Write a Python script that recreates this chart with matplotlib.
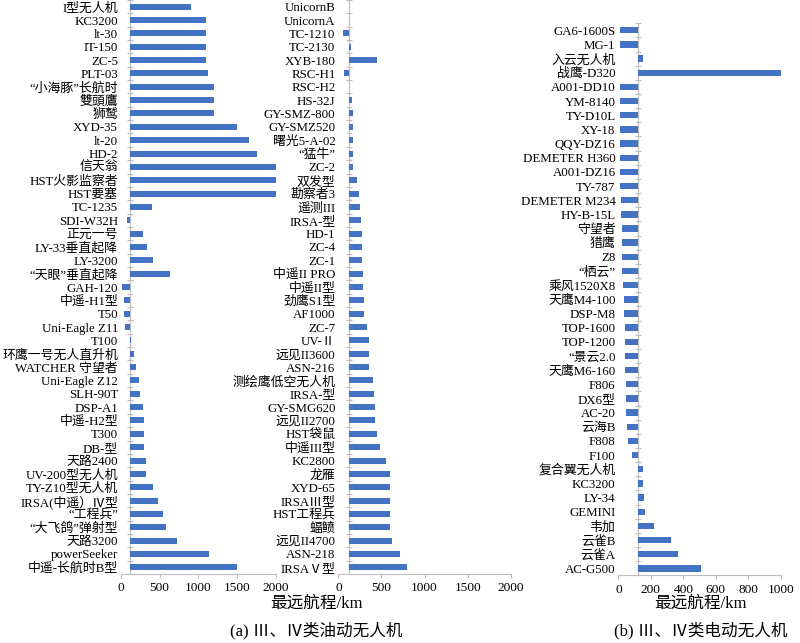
import numpy as np
import matplotlib.pyplot as plt

plt.rcParams['font.family'] = ['Liberation Serif', 'Noto Sans CJK SC']

# value where the vertical axis crosses (bars start from here)
BASE = 120

oil1_names = ["I型无人机", "KC3200", "lt-30", "IT-150", "ZC-5", "PLT-03", "“小海豚”长航时", "雙頭鷹", "狮鹫",
              "XYD-35", "lt-20", "HD-2", "信天翁", "HST火影监察者", "HST要塞", "TC-1235", "SDI-W32H", "正元一号",
              "LY-33垂直起降", "LY-3200", "“天眼”垂直起降", "GAH-120", "中遥-H1型", "T50", "Uni-Eagle Z11", "T100",
              "环鹰一号无人直升机", "WATCHER 守望者", "Uni-Eagle Z12", "SLH-90T", "DSP-A1", "中遥-H2型", "T300",
              "DB-型", "天路2400", "UV-200型无人机", "TY-Z10型无人机", "IRSA(中遥）Ⅳ型", "“工程兵”",
              "“大飞鸽”弹射型", "天路3200", "powerSeeker", "中遥-长航时B型"]
oil1_range = [900, 1100, 1100, 1100, 1100, 1120, 1200, 1200, 1200,
              1500, 1650, 1750, 2000, 2000, 2000, 400, 80, 280,
              340, 420, 640, 15, 40, 40, 60, 135,
              175, 200, 240, 250, 280, 300, 300,
              300, 320, 330, 420, 480, 550,
              580, 720, 1140, 1500]

oil2_names = ["UnicornB", "UnicornA", "TC-1210", "TC-2130", "XYB-180", "RSC-H1", "RSC-H2", "HS-32J", "GY-SMZ-800",
              "GY-SMZ520", "曙光5-A-02", "“猛牛”", "ZC-2", "双发型", "勘察者3", "遥测III", "IRSA-型", "HD-1", "ZC-4",
              "ZC-1", "中遥II PRO", "中遥II型", "劲鹰S1型", "AF1000", "ZC-7", "UV-Ⅱ", "远见II3600", "ASN-216",
              "测绘鹰低空无人机", "IRSA-型", "GY-SMG620", "远见II2700", "HST袋鼠", "中遥III型", "KC2800", "龙雁",
              "XYD-65", "IRSAⅢ型", "HST工程兵", "蝠鲼", "远见II4700", "ASN-218", "IRSAⅤ型"]
oil2_range = [120, 120, 50, 145, 450, 65, 120, 160, 175,
              175, 175, 175, 175, 220, 240, 250, 260, 280, 280,
              280, 285, 285, 300, 300, 330, 360, 360, 360,
              400, 410, 420, 420, 450, 480, 550, 600,
              600, 600, 600, 600, 625, 720, 800]

elec_names = ["GA6-1600S", "MG-1", "入云无人机", "战鹰-D320", "A001-DD10", "YM-8140", "TY-D10L", "XY-18",
              "QQY-DZ16", "DEMETER H360", "A001-DZ16", "TY-787", "DEMETER M234", "HY-B-15L", "守望者", "猎鹰",
              "Z8", "“栖云”", "乘风1520X8", "天鹰M4-100", "DSP-M8", "TOP-1600", "TOP-1200", "“景云2.0",
              "天鹰M6-160", "F806", "DX6型", "AC-20", "云海B", "F808", "F100", "复合翼无人机", "KC3200", "LY-34",
              "GEMINI", "韦加", "云雀B", "云雀A", "AC-G500"]
elec_range = [10, 10, 150, 1000, 10, 10, 10, 10,
              10, 10, 10, 10, 15, 15, 20, 20,
              20, 22, 30, 35, 35, 40, 40, 40,
              40, 45, 45, 50, 55, 60, 82, 150, 150, 160,
              165, 222, 322, 365, 510]

BAR = '#4472C4'
AXC = '#BFBFBF'


def draw_panel(ax, names, vals, xmax, step):
    n = len(names)
    y = np.arange(n)
    v = np.array(vals, dtype=float)
    ax.barh(y, v - BASE, left=BASE, height=0.45, color=BAR, zorder=2)
    ax.set_xlim(0, xmax)
    ax.set_ylim(n - 0.5, -0.5)
    ax.set_yticks(y)
    ax.set_yticklabels(names, fontsize=9.3)
    ax.tick_params(axis='y', length=0, pad=2)
    ax.set_xticks(np.arange(0, xmax + 1, step))
    ax.tick_params(axis='x', length=3, color=AXC, labelsize=9.6, pad=3)
    for s in ['top', 'right', 'left']:
        ax.spines[s].set_visible(False)
    ax.spines['bottom'].set_color(AXC)
    # vertical axis line at the crossing value, with category tick marks
    ax.axvline(BASE, color=AXC, lw=0.9, zorder=1)
    ax.plot([BASE] * (n + 1), np.arange(n + 1) - 0.5, ls='none', marker='_', ms=5, mew=0.8, color=AXC,
            zorder=1, clip_on=False)


fig = plt.figure(figsize=(8, 6.43), dpi=100)
ax1 = fig.add_axes([0.151, 0.1073, 0.194, 0.8927])
ax2 = fig.add_axes([0.4229, 0.1073, 0.2155, 0.8927])
ax3 = fig.add_axes([0.7729, 0.1051, 0.203, 0.8588])

draw_panel(ax1, oil1_names, oil1_range, 2000, 500)
draw_panel(ax2, oil2_names, oil2_range, 2000, 500)
draw_panel(ax3, elec_names, elec_range, 1000, 200)

fig.text(0.395, 1 - 604 / 643, "最远航程/km", ha='center', va='center', fontsize=12)
fig.text(0.395, 1 - 631 / 643, "(a) Ⅲ、Ⅳ类油动无人机", ha='center', va='center', fontsize=12)
fig.text(0.876, 1 - 604 / 643, "最远航程/km", ha='center', va='center', fontsize=12)
fig.text(0.876, 1 - 631 / 643, "(b) Ⅲ、Ⅳ类电动无人机", ha='center', va='center', fontsize=12)

plt.savefig("out.png", dpi=100)
plt.close(fig)
